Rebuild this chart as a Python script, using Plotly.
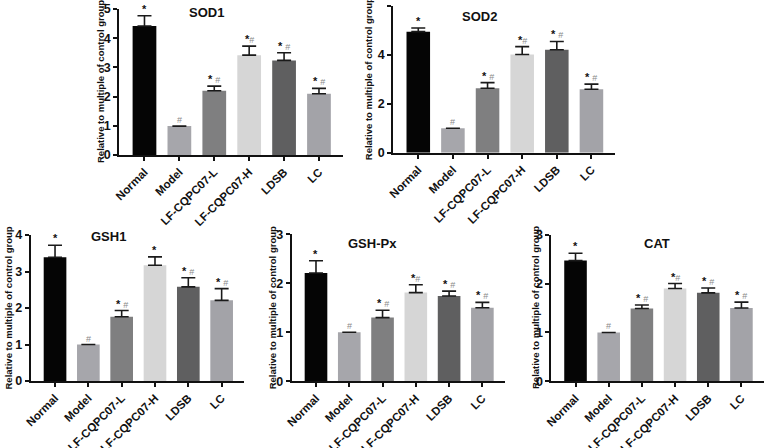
import plotly.graph_objects as go

categories = ["Normal", "Model", "LF-CQPC07-L", "LF-CQPC07-H", "LDSB", "LC"]
bar_colors = ["#050505", "#a6a6ab", "#7f7f80", "#d6d6d6", "#5f5f60", "#a3a3a8"]

sod1_mean = [4.42, 0.99, 2.20, 3.42, 3.24, 2.10]
sod1_err = [0.35, None, 0.16, 0.31, 0.26, 0.18]
sod1_sig = ["*", "#", "* #", "*#", "* #", "* #"]

sod2_mean = [4.94, 1.00, 2.63, 4.01, 4.20, 2.59]
sod2_err = [0.15, None, 0.23, 0.32, 0.34, 0.21]
sod2_sig = ["*", "#", "* #", "*#", "* #", "* #"]

gsh1_mean = [3.39, 1.00, 1.76, 3.17, 2.58, 2.21]
gsh1_err = [0.33, None, 0.17, 0.23, 0.25, 0.32]
gsh1_sig = ["*", "#", "* #", "*", "* #", "* #"]

gshpx_mean = [2.21, 1.00, 1.30, 1.81, 1.74, 1.50]
gshpx_err = [0.25, None, 0.15, 0.16, 0.10, 0.11]
gshpx_sig = ["*", "#", "* #", "*#", "* #", "* #"]

cat_mean = [2.47, 1.00, 1.49, 1.90, 1.81, 1.50]
cat_err = [0.15, None, 0.07, 0.10, 0.10, 0.12]
cat_sig = ["*", "#", "* #", "*#", "* #", "* #"]

panel_titles = ["SOD1", "SOD2", "GSH1", "GSH-Px", "CAT"]
y_title = "Relative to multiple of control group"
y_max = [5, 6, 4, 3, 3]
y_dtick = [1, 2, 1, 1, 1]

W, H = 778, 448
# pixel layout: (x_left, x_right, y_zero, y_top)
px = [
    (119, 342.7, 155, 9),
    (393, 615, 152.7, 5.7),
    (30.7, 244.3, 381, 235),
    (291.7, 505, 381.3, 234.3),
    (551.3, 764, 381.3, 234.7),
]
title_pos = [(206, 12), (479, 16.5), (108, 237), (372, 244), (657, 244)]
ytitle_x = [100, 368, 7.5, 272.5, 535]

means = [sod1_mean, sod2_mean, gsh1_mean, gshpx_mean, cat_mean]
errs = [sod1_err, sod2_err, gsh1_err, gshpx_err, cat_err]
sigs = [sod1_sig, sod2_sig, gsh1_sig, gshpx_sig, cat_sig]

FONT = "Liberation Sans, Arial, sans-serif"
HASH = '<span style="color:#8a8a8a;font-size:9px">#</span>'


def sig_text(s):
    return "".join(HASH if ch == "#" else ("<b>*</b>" if ch == "*" else ch) for ch in s)


fig = go.Figure()
annotations = []
xs = list(range(len(categories)))

for i in range(5):
    xa = "x" if i == 0 else f"x{i+1}"
    ya = "y" if i == 0 else f"y{i+1}"
    fig.add_trace(go.Bar(
        x=xs, y=means[i], width=0.68,
        marker=dict(color=bar_colors, line=dict(width=0)),
        error_y=dict(type="data", symmetric=False, array=errs[i],
                     arrayminus=[0] * 6, color="#1a1a1a", thickness=1.6, width=7),
        xaxis=xa, yaxis=ya, showlegend=False,
    ))
    xl, xr, y0, yt = px[i]
    xkey = "xaxis" if i == 0 else f"xaxis{i+1}"
    ykey = "yaxis" if i == 0 else f"yaxis{i+1}"
    fig.layout[xkey] = dict(
        domain=[xl / W, xr / W], anchor=ya, range=[-0.73, 5.68], automargin=False,
        tickvals=xs, ticktext=categories, tickangle=-45,
        ticks="outside", ticklen=4, tickwidth=1.5, tickcolor="#111",
        showline=True, linecolor="#111", linewidth=1.8, showgrid=False, zeroline=False,
        tickfont=dict(family=FONT, size=11.5, color="#111", weight="bold"),
    )
    fig.layout[ykey] = dict(
        domain=[1 - y0 / H, 1 - yt / H], anchor=xa, range=[0, y_max[i]], automargin=False,
        dtick=y_dtick[i], tick0=0,
        ticks="outside", ticklen=4, tickwidth=1.5, tickcolor="#111",
        showline=True, linecolor="#111", linewidth=1.8, showgrid=False, zeroline=False,
        tickfont=dict(family=FONT, size=12.5, color="#111", weight="bold"),
    )
    tx, ty = title_pos[i]
    annotations.append(dict(
        text=panel_titles[i], x=tx / W, y=1 - ty / H, xref="paper", yref="paper",
        xanchor="center", yanchor="middle", showarrow=False,
        font=dict(family=FONT, size=13, color="#111", weight="bold"),
    ))
    annotations.append(dict(
        text=y_title, x=ytitle_x[i] / W, y=1 - (y0 + yt) / 2 / H, xref="paper", yref="paper",
        xanchor="center", yanchor="middle", showarrow=False, textangle=-90,
        font=dict(family=FONT, size=9.5, color="#111", weight="bold"),
    ))
    for j in xs:
        top = means[i][j] + (errs[i][j] or 0)
        annotations.append(dict(
            text=sig_text(sigs[i][j]), x=j, y=top, xref=xa, yref=ya,
            xanchor="center", yanchor="bottom", yshift=-1, showarrow=False,
            font=dict(family=FONT, size=11, color="#111"),
        ))

fig.update_layout(
    width=W, height=H, margin=dict(l=0, r=0, t=0, b=0, autoexpand=False),
    paper_bgcolor="white", plot_bgcolor="white",
    annotations=annotations, showlegend=False,
    font=dict(family=FONT),
)

fig.write_html(
    "out.html",
    config={"displayModeBar": False},
    post_script="document.body.style.margin='0';document.body.style.padding='0';",
)
